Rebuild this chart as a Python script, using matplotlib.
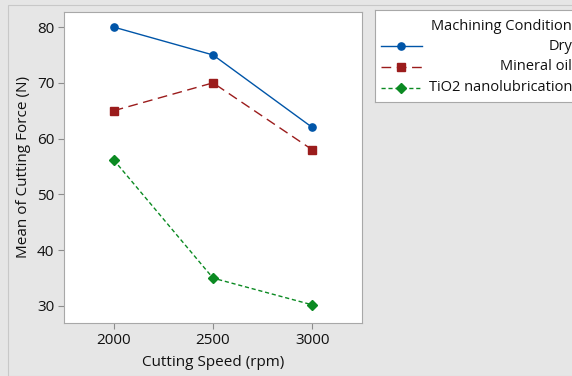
import matplotlib.pyplot as plt
from matplotlib.lines import Line2D
from matplotlib.patches import Rectangle

plt.rcParams['font.family'] = ['Open Sans', 'DejaVu Sans']

speed = [2000, 2500, 3000]
dry = [80, 75, 62]
mineral = [65, 70, 58]
tio2 = [56.2, 35, 30.2]
labels = ['Dry', 'Mineral oil', 'TiO2 nanolubrication']
legend_title = 'Machining Condition'

colors = ['#0055a8', '#9b1c1c', '#0b8a22']
styles = ['-', (0, (7, 4)), (0, (3, 2))]
markers = ['o', 's', 'D']
msizes = [5.2, 5.2, 4.8]

W, H = 572, 376
fig = plt.figure(figsize=(W / 100, H / 100), dpi=100)
fig.patch.set_facecolor('#e6e6e6')
fig.patches.append(Rectangle((8 / W, 0), 1, 1 - 5 / H, transform=fig.transFigure,
                             fill=False, edgecolor='#c8c8c8', linewidth=0.8))

ax = fig.add_axes([64 / W, 1 - 323 / H, (362 - 64) / W, (323 - 12) / H])
for ys, c, ls, m, ms, lab in zip([dry, mineral, tio2], colors, styles, markers, msizes, labels):
    ax.plot(speed, ys, color=c, linestyle=ls, linewidth=1, marker=m, markersize=ms, label=lab)

ax.set_xlim(1750, 3250)
ax.set_ylim(26.95, 82.7)
ax.set_xticks(speed)
ax.set_yticks([30, 40, 50, 60, 70, 80])
ax.tick_params(direction='out', length=4, color='#8c8c8c', labelsize=11, pad=3,
               labelcolor='#111111')
for s in ax.spines.values():
    s.set_color('#a8a8a8')
    s.set_linewidth(0.8)
ax.set_xlabel('Cutting Speed (rpm)', fontsize=11, labelpad=5, color='#111111')
ax.set_ylabel('Mean of Cutting Force (N)', fontsize=11, labelpad=4, color='#111111')

# legend box
lax = fig.add_axes([375 / W, 1 - 102 / H, 1, (102 - 10) / H])
lax.set_xlim(375, 375 + W)
lax.set_ylim(102, 10)
lax.set_xticks([])
lax.set_yticks([])
for s in lax.spines.values():
    s.set_color('#a8a8a8')
    s.set_linewidth(0.8)
lax.text(572, 27, legend_title, ha='right', va='center', fontsize=10.5, color='#111111')
for i, (c, ls, m, ms, lab) in enumerate(zip(colors, styles, markers, msizes, labels)):
    yy = 46 + i * 21
    lax.add_line(Line2D([381, 422], [yy, yy], color=c, linestyle=ls, linewidth=1))
    lax.add_line(Line2D([401], [yy], color=c, marker=m, markersize=ms))
    lax.text(572, yy, lab, ha='right', va='center', fontsize=10.5, color='#111111')

fig.savefig('out.png', dpi=100, facecolor=fig.get_facecolor())
